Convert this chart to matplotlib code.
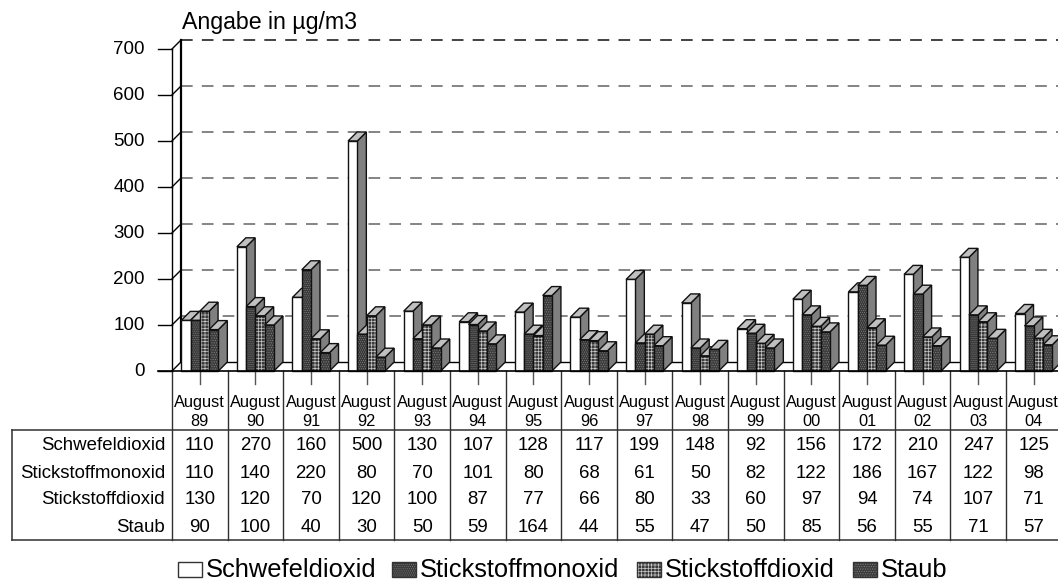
import matplotlib
import matplotlib.pyplot as plt
from matplotlib.patches import Rectangle

matplotlib.use('Agg')

plt.rcParams['font.family'] = ['Liberation Sans', 'DejaVu Sans']
plt.rcParams['hatch.linewidth'] = 0.5

# ---------------------- DATA

months = ['89', '90', '91', '92', '93', '94', '95', '96', '97', '98', '99', '00', '01', '02', '03', '04']
schwefeldioxid = [110, 270, 160, 500, 130, 107, 128, 117, 199, 148, 92, 156, 172, 210, 247, 125]
stickstoffmonoxid = [110, 140, 220, 80, 70, 101, 80, 68, 61, 50, 82, 122, 186, 167, 122, 98]
stickstoffdioxid = [130, 120, 70, 120, 100, 87, 77, 66, 80, 33, 60, 97, 94, 74, 107, 71]
staub = [90, 100, 40, 30, 50, 59, 164, 44, 55, 47, 50, 85, 56, 55, 71, 57]
names = ['Schwefeldioxid', 'Stickstoffmonoxid', 'Stickstoffdioxid', 'Staub']
yticks = [0, 100, 200, 300, 400, 500, 600, 700]

series = [schwefeldioxid, stickstoffmonoxid, stickstoffdioxid, staub]
# face, hatch colour, hatch
styles = [('white', 'white', None),
          ('#383838', '#7a7a7a', '........'),
          ('#3a3a3a', '#c8c8c8', '+++++'),
          ('#3c3c3c', '#7e7e7e', '.......')]

# ---------------------- LAYOUT (pixels of the 1058x583 picture)

W, H = 1058, 583
x0, y0 = 172, 371          # front corner of the plot
cat_w, unit_h = 55.6, 0.46  # px per category, px per value
depth = 9

fig = plt.figure(figsize=(W / 100, H / 100), dpi=100)

# overlay in pixels, for table frame and legend
px = fig.add_axes([0, 0, 1, 1])
px.set_xlim(0, W)
px.set_ylim(H, 0)
px.axis('off')

ax = fig.add_axes([x0 / W, (H - y0) / H, cat_w * len(months) / W, 700 * unit_h / H])
ax.set_xlim(0, len(months))
ax.set_ylim(0, 700)
ax.axis('off')
ax.patch.set_alpha(0)

dx = depth / cat_w
dy = depth / unit_h
bar_w = 1 / 6

# ---------------------- WALLS AND GRID

for v in yticks[1:]:
    color = '#222222' if v == 700 else '#707070'
    ax.plot([dx, len(months) + dx], [v + dy, v + dy], color=color, lw=1.2,
            dashes=(7, 5.5), clip_on=False, zorder=1)
ax.plot([dx, len(months) + dx], [dy, dy], color='black', lw=1, clip_on=False, zorder=1)
ax.plot([dx, dx], [dy, 700 + dy], color='black', lw=1.6, clip_on=False, zorder=2)
ax.plot([0, 0], [0, 700], color='black', lw=1, clip_on=False, zorder=2)
for v in yticks:
    ax.plot([0, dx], [v, v + dy], color='black', lw=1, clip_on=False, zorder=2)
    px.plot([158, x0], [y0 - v * unit_h] * 2, color='black', lw=1)
    px.text(145, y0 - v * unit_h, str(v), ha='right', va='center', fontsize=13.5)

# ---------------------- BARS

z = 3
for i in range(len(months)):
    for s, values in enumerate(series):
        v = values[i]
        left = i + bar_w * (s + 1)
        right = left + bar_w
        ax.fill([right, right + dx, right + dx, right], [0, dy, v + dy, v],
                facecolor='#808080', edgecolor='#111111', lw=1, zorder=z, clip_on=False)
        ax.fill([left, left + dx, right + dx, right], [v, v + dy, v + dy, v],
                facecolor='#c0c0c0', edgecolor='#111111', lw=1, zorder=z, clip_on=False)
        face, hatch_col, hatch = styles[s]
        ax.bar(left, v, bar_w, align='edge', facecolor=face, edgecolor=hatch_col,
               hatch=hatch, lw=0, zorder=z, clip_on=False)
        ax.bar(left, v, bar_w, align='edge', fill=False, edgecolor='#111111', lw=1,
               zorder=z, clip_on=False)
        z += 1

ax.plot([0, len(months)], [0, 0], color='black', lw=1.2, zorder=z, clip_on=False)
px.plot([158, x0], [y0, y0], color='black', lw=1.2)

# ---------------------- TABLE

table_top, table_bottom = 430, 539.5
row_y = [445.5, 473, 500, 528]
px.plot([12, W], [table_top, table_top], color='#303030', lw=1.1)
px.plot([12, W], [table_bottom, table_bottom], color='#303030', lw=1.1)
px.plot([12, 12], [table_top, table_bottom], color='#303030', lw=1.1)

for i in range(len(months) + 1):
    px.plot([x0 + i * cat_w] * 2, [y0, table_bottom], color='#303030', lw=1)
for i, m in enumerate(months):
    c = i + 0.5
    px.plot([x0 + c * cat_w] * 2, [y0, 384], color='#555555', lw=1)
    px.text(x0 + c * cat_w, 403, 'August', ha='center', va='center', fontsize=11.8)
    px.text(x0 + c * cat_w, 421, m, ha='center', va='center', fontsize=11.8)
    for s, values in enumerate(series):
        px.text(x0 + c * cat_w, row_y[s], str(values[i]), ha='center', va='center', fontsize=13.4)
for s, name in enumerate(names):
    px.text(165, row_y[s], name, ha='right', va='center', fontsize=13.4)

# ---------------------- TITLE AND LEGEND

px.text(182, 22, 'Angabe in µg/m3', ha='left', va='center', fontsize=16.7)

swatch_x = [178, 392, 637, 853]
for s, name in enumerate(names):
    face, hatch_col, hatch = styles[s]
    px.add_patch(Rectangle((swatch_x[s], 562), 24, 15, facecolor=face, edgecolor=hatch_col,
                           hatch=hatch, lw=0))
    px.add_patch(Rectangle((swatch_x[s], 562), 24, 15, fill=False, edgecolor='#333333', lw=1))
    px.text(swatch_x[s] + 28, 570, name, ha='left', va='center', fontsize=18.4)

fig.savefig('out.png', dpi=100)
